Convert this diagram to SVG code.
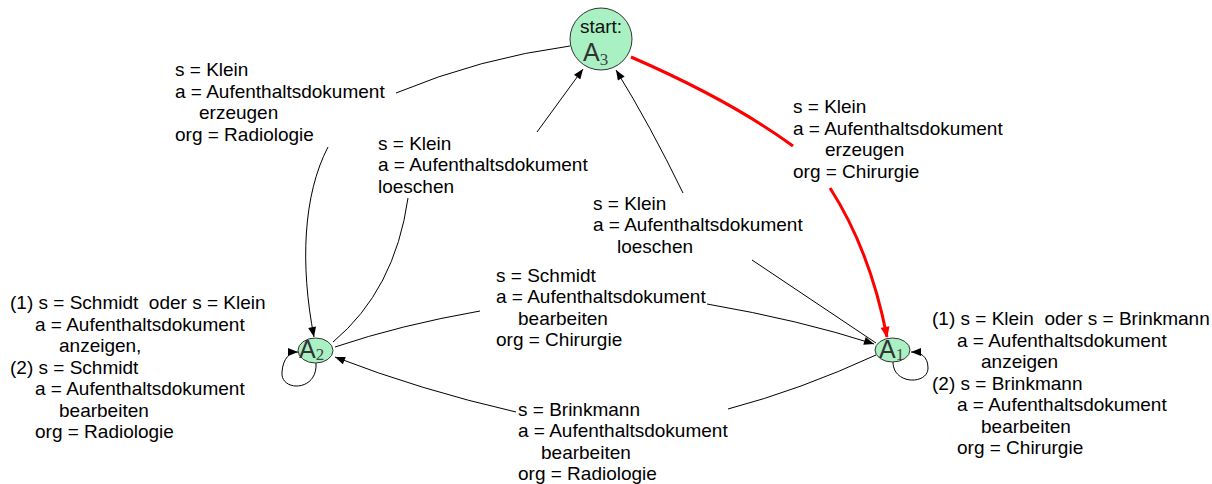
<svg xmlns="http://www.w3.org/2000/svg" width="1212" height="484" viewBox="0 0 1212 484">
<style>
.lbl{font-family:"Liberation Sans",Arial,sans-serif;font-size:19px;fill:#000;white-space:pre}
.edge{fill:none;stroke:#000;stroke-width:1}
.red{fill:none;stroke:#f00;stroke-width:3}
.node{fill:#a9f0c3;stroke:#333;stroke-width:1}
.nm{font-family:"Liberation Sans",Arial,sans-serif;font-size:25px;fill:#333}
.sub{font-family:"Liberation Serif","DejaVu Serif",serif;font-size:17px;fill:#444}
.st{font-family:"Liberation Sans",Arial,sans-serif;font-size:19px;fill:#111}
</style>
<defs>
<marker id="ah" viewBox="0 0 10 8" refX="10" refY="4" markerWidth="11" markerHeight="8" orient="auto" markerUnits="userSpaceOnUse"><path d="M0,0 L10,4 L0,8 z" fill="#000"/></marker>
<marker id="ahr" viewBox="0 0 10 8" refX="9" refY="4" markerWidth="12" markerHeight="9" orient="auto" markerUnits="userSpaceOnUse"><path d="M0,0 L10,4 L0,8 z" fill="#f00"/></marker>
</defs>
<g id="connectors">
<path class="edge" d="M570,46 Q480,58 396,93"/>
<path class="edge" d="M328,147 C303,195 300,265 314,337" marker-end="url(#ah)"/>
<path class="edge" d="M333,342 Q395,290 408,198"/>
<path class="edge" d="M537,132 L583,69" marker-end="url(#ah)"/>
<path class="edge" d="M876,343 L752,260"/>
<path class="edge" d="M683,193 Q650,125 616,70" marker-end="url(#ah)"/>
<path class="red" d="M631,57 Q730,100 793,146"/>
<path class="red" d="M830,188 Q870,250 887,337" marker-end="url(#ahr)"/>
<path class="edge" d="M335,347 Q400,325 480,311"/>
<path class="edge" d="M707,304 Q800,320 874,344" marker-end="url(#ah)"/>
<path class="edge" d="M876,355 Q800,390 728,409"/>
<path class="edge" d="M516,412 Q420,390 335,357" marker-end="url(#ah)"/>
<path class="edge" d="M316,363 C318,392 280,392 282,372 C283,358 290,352 298,352" marker-end="url(#ah)"/>
<path class="edge" d="M893,362 C893,385 928,385 928,368 C928,356 920,352 911,352" marker-end="url(#ah)"/>
</g>
<g id="labels">
<text class="lbl" x="175" y="76"><tspan x="175" y="76">s = Klein</tspan><tspan x="175" y="97.5">a = Aufenthaltsdokument</tspan><tspan x="199" y="119">erzeugen</tspan><tspan x="175" y="140.5">org = Radiologie</tspan></text>
<text class="lbl" x="378" y="149.5"><tspan x="378" y="149.5">s = Klein</tspan><tspan x="378" y="171">a = Aufenthaltsdokument</tspan><tspan x="378" y="192.5">loeschen</tspan></text>
<text class="lbl" x="593" y="209.5"><tspan x="593" y="209.5">s = Klein</tspan><tspan x="593" y="231">a = Aufenthaltsdokument</tspan><tspan x="617" y="252.5">loeschen</tspan></text>
<text class="lbl" x="793" y="113"><tspan x="793" y="113">s = Klein</tspan><tspan x="793" y="134.5">a = Aufenthaltsdokument</tspan><tspan x="825" y="156">erzeugen</tspan><tspan x="793" y="177.5">org = Chirurgie</tspan></text>
<text class="lbl" x="496" y="281.5"><tspan x="496" y="281.5">s = Schmidt</tspan><tspan x="496" y="303">a = Aufenthaltsdokument</tspan><tspan x="518" y="324.5">bearbeiten</tspan><tspan x="496" y="346">org = Chirurgie</tspan></text>
<text class="lbl" x="518" y="415.5"><tspan x="518" y="415.5">s = Brinkmann</tspan><tspan x="518" y="437">a = Aufenthaltsdokument</tspan><tspan x="541" y="458.5">bearbeiten</tspan><tspan x="518" y="480">org = Radiologie</tspan></text>
<text class="lbl" x="10" y="309"><tspan x="10" y="309">(1) s = Schmidt  oder s = Klein</tspan><tspan x="35" y="330.5">a = Aufenthaltsdokument</tspan><tspan x="59" y="352">anzeigen,</tspan><tspan x="10" y="373.5">(2) s = Schmidt</tspan><tspan x="35" y="395">a = Aufenthaltsdokument</tspan><tspan x="59" y="416.5">bearbeiten</tspan><tspan x="35" y="438">org = Radiologie</tspan></text>
<text class="lbl" x="932" y="325"><tspan x="932" y="325">(1) s = Klein  oder s = Brinkmann</tspan><tspan x="957" y="346.5">a = Aufenthaltsdokument</tspan><tspan x="981" y="368">anzeigen</tspan><tspan x="932" y="389.5">(2) s = Brinkmann</tspan><tspan x="957" y="411">a = Aufenthaltsdokument</tspan><tspan x="981" y="432.5">bearbeiten</tspan><tspan x="957" y="454">org = Chirurgie</tspan></text>
</g>
<g id="A3">
<circle class="node" cx="601" cy="39" r="31"/>
<text class="st" x="601" y="33" text-anchor="middle">start:</text>
<text x="583" y="61"><tspan class="nm">A</tspan><tspan class="sub" dy="4">3</tspan></text>
</g>
<g id="A2">
<ellipse class="node" cx="315.5" cy="350.5" rx="17.5" ry="12.5"/>
<text x="299" y="358"><tspan class="nm">A</tspan><tspan class="sub" dy="2">2</tspan></text>
</g>
<g id="A1">
<ellipse class="node" cx="892.5" cy="350" rx="17.5" ry="12"/>
<text x="879" y="358"><tspan class="nm">A</tspan><tspan class="sub" dy="2">1</tspan></text>
</g>
</svg>
